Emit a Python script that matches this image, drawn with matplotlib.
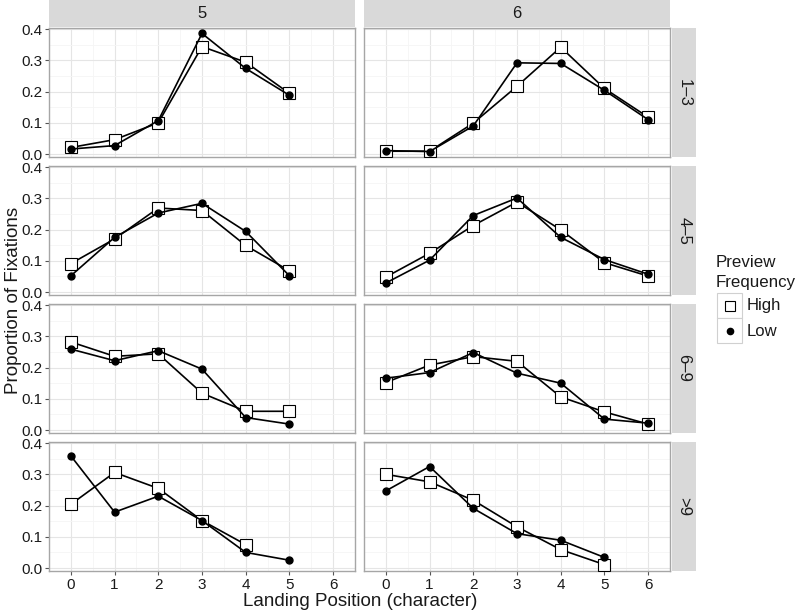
import matplotlib.pyplot as plt
import numpy as np
from matplotlib.patches import Rectangle
from matplotlib.lines import Line2D

plt.rcParams['font.family'] = ['Liberation Sans', 'DejaVu Sans']

# facets: word length (columns) x preview range (rows)
word_lengths = ['5', '6']
row_labels = ['1\u20133', '4\u20135', '6\u20139', '>9']

# landing position 0..6 (rows top to bottom)
high_5 = [[0.021, 0.046, 0.100, 0.344, 0.294, 0.194],
          [0.091, 0.170, 0.269, 0.261, 0.149, 0.068],
          [0.282, 0.236, 0.244, 0.118, 0.060, 0.060],
          [0.204, 0.306, 0.255, 0.152, 0.075]]
low_5 = [[0.016, 0.027, 0.107, 0.386, 0.274, 0.188],
         [0.052, 0.175, 0.253, 0.284, 0.194, 0.052],
         [0.259, 0.222, 0.254, 0.195, 0.040, 0.019],
         [0.359, 0.179, 0.230, 0.152, 0.050, 0.025]]
high_6 = [[0.009, 0.009, 0.099, 0.217, 0.342, 0.210, 0.118],
          [0.048, 0.124, 0.213, 0.288, 0.199, 0.094, 0.051],
          [0.152, 0.208, 0.235, 0.220, 0.106, 0.058, 0.019],
          [0.300, 0.276, 0.217, 0.132, 0.059, 0.011]]
low_6 = [[0.011, 0.008, 0.090, 0.292, 0.290, 0.204, 0.110],
         [0.029, 0.102, 0.245, 0.301, 0.175, 0.104, 0.057],
         [0.166, 0.184, 0.248, 0.182, 0.150, 0.035, 0.022],
         [0.247, 0.325, 0.191, 0.110, 0.089, 0.034]]

legend_labels = ['High', 'Low']

high = {'5': high_5, '6': high_6}
low = {'5': low_5, '6': low_6}

W, H = 800, 613
fig = plt.figure(figsize=(W / 100, H / 100), dpi=100)

col_left = [49, 364]
pw = 306
row_top = [28, 166, 304, 442]
ph = 129
strip_col = '#d9d9d9'
border_col = '#a6a6a6'
txt_col = '#1a1a1a'

sq_style = dict(marker='s', ms=8.5, mfc='white', mec='black', mew=0.8)
dot_style = dict(marker='o', ms=5, mfc='black', mec='black')

for ci, wl in enumerate(word_lengths):
    for ri, rl in enumerate(row_labels):
        ax = fig.add_axes([col_left[ci] / W, 1 - (row_top[ri] + ph) / H, pw / W, ph / H])
        ax.set_xlim(-0.3, 6.3)
        ax.set_ylim(-0.0095, 0.4035)
        ax.set_xticks(range(7))
        ax.set_xticks(np.arange(-0.5, 6.6, 1), minor=True)
        ax.set_yticks([0, 0.1, 0.2, 0.3, 0.4])
        ax.set_yticks(np.arange(0.05, 0.4, 0.1), minor=True)
        ax.grid(which='major', color='#e5e5e5', lw=0.8)
        ax.grid(which='minor', color='#f5f5f5', lw=0.6)
        ax.set_axisbelow(True)
        for s in ax.spines.values():
            s.set_color(border_col)
            s.set_linewidth(1.0)
        ax.tick_params(which='minor', length=0)
        ax.tick_params(which='major', length=3, color='#555555', labelsize=11,
                       labelcolor=txt_col, pad=2)
        if ci == 0:
            ax.set_yticklabels(['0.0', '0.1', '0.2', '0.3', '0.4'])
        else:
            ax.tick_params(axis='y', length=0, labelleft=False)
        if ri != 3:
            ax.tick_params(axis='x', length=0, labelbottom=False)

        hv = high[wl][ri]
        lv = low[wl][ri]
        ax.plot(range(len(hv)), hv, color='black', lw=1.2, zorder=3, **sq_style)
        ax.plot(range(len(lv)), lv, color='black', lw=1.2, zorder=4, **dot_style)

        if ri == 0:
            ax.add_patch(Rectangle((0, 1 + 1 / ph), 1, 27 / ph, transform=ax.transAxes,
                                   facecolor=strip_col, edgecolor='none', clip_on=False))
            ax.text(0.5, 1 + 14.5 / ph, wl, transform=ax.transAxes, ha='center', va='center',
                    fontsize=12, color=txt_col)
        if ci == 1:
            ax.add_patch(Rectangle((1 + 2 / pw, 0), 24 / pw, 1, transform=ax.transAxes,
                                   facecolor=strip_col, edgecolor='none', clip_on=False))
            ax.text(1 + 14 / pw, 0.5, rl, transform=ax.transAxes, ha='center', va='center',
                    rotation=-90, fontsize=12, color=txt_col)

fig.text(14 / W, 1 - 300 / H, 'Proportion of Fixations', rotation=90, ha='center', va='center',
         fontsize=13.5, color=txt_col)
fig.text(360 / W, 1 - 601 / H, 'Landing Position (character)', ha='center', va='center',
         fontsize=13.5, color=txt_col)

# legend drawn by hand so the key boxes look like ggplot's
fig.text(716 / W, 1 - 262 / H, 'Preview', ha='left', va='center', fontsize=12.2, color=txt_col)
fig.text(716 / W, 1 - 283 / H, 'Frequency', ha='left', va='center', fontsize=12.2, color=txt_col)
key_styles = [sq_style, dot_style]
for k, lab in enumerate(legend_labels):
    top = 293 + 25 * k
    fig.add_artist(Rectangle((717 / W, 1 - (top + 25) / H), 25 / W, 25 / H,
                             transform=fig.transFigure, facecolor='white',
                             edgecolor='#d0d0d0', lw=0.8))
    st = dict(key_styles[k])
    if k == 0:
        st['ms'] = 7
    else:
        st['ms'] = 4.5
    fig.add_artist(Line2D([729.5 / W], [1 - (top + 12.5) / H], transform=fig.transFigure,
                          ls='none', **st))
    fig.text(747 / W, 1 - (top + 13) / H, lab, ha='left', va='center', fontsize=12,
             color=txt_col)

fig.savefig('out.png', dpi=100)
